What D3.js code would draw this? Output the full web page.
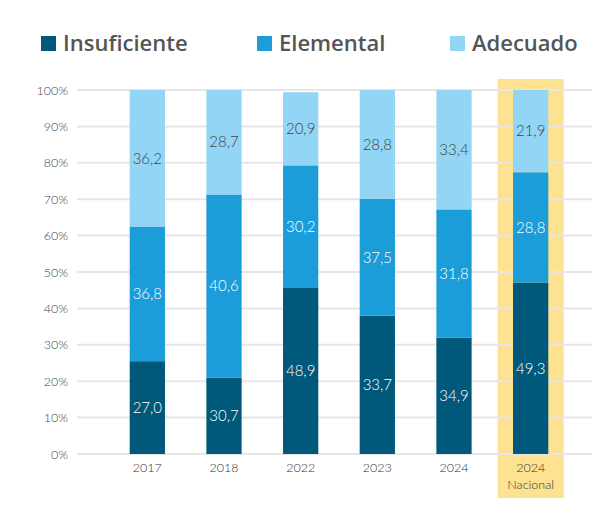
<!DOCTYPE html>
<html>
<head>
<meta charset="utf-8">
<script src="https://cdn.jsdelivr.net/npm/d3@7"></script>
<style>
  body { margin: 0; background: #fff; }
  svg { display: block; }
</style>
</head>
<body>
<svg id="chart" width="615" height="512"></svg>
<script>
// ---- data ----
const categories = ["2017", "2018", "2022", "2023", "2024", "2024\nNacional"];
const seriesNames = ["Insuficiente", "Elemental", "Adecuado"];
// segment heights as drawn in the picture (percent)
const insuficiente = [25.5, 21.0, 45.6, 38.0, 32.0, 47.1];
const elemental    = [37.0, 50.3, 33.7, 32.1, 35.2, 30.3];
const adecuado     = [37.5, 28.7, 20.1, 29.9, 32.8, 22.6];
// printed labels
const insuficienteLabels = ["27,0", "30,7", "48,9", "33,7", "34,9", "49,3"];
const elementalLabels    = ["36,8", "40,6", "30,2", "37,5", "31,8", "28,8"];
const adecuadoLabels     = ["36,2", "28,7", "20,9", "28,8", "33,4", "21,9"];
const yTicks = [0, 10, 20, 30, 40, 50, 60, 70, 80, 90, 100];
const highlighted = "2024\nNacional";

const colors = ["#00587a", "#1b9dd9", "#93d5f4"];
const labelColors = ["#ffffff", "#ffffff", "#444444"];

const svg = d3.select("#chart");
const font = "Lato, 'Open Sans', sans-serif";

const x = d3.scaleBand().domain(categories).range([109, 569]).paddingInner(0.54).paddingOuter(0.27);
const y = d3.scaleLinear().domain([0, 100]).range([454, 90]);

const rows = categories.map((c, i) => ({
  cat: c,
  Insuficiente: insuficiente[i], Elemental: elemental[i], Adecuado: adecuado[i],
  labels: [insuficienteLabels[i], elementalLabels[i], adecuadoLabels[i]]
}));
const stacked = d3.stack().keys(seriesNames)(rows);

// highlight
const hb = x(highlighted) + x.bandwidth() / 2;
svg.append("rect").attr("x", hb - 33).attr("y", 79).attr("width", 66).attr("height", 419)
  .attr("fill", "#fde291");

// gridlines
svg.append("g").selectAll("line").data(yTicks).join("line")
  .attr("x1", 77).attr("x2", 592)
  .attr("y1", d => y(d)).attr("y2", d => y(d))
  .attr("stroke", "#e6e6e6").attr("stroke-width", 2);

// y axis labels
const yAxis = d3.axisLeft(y).tickValues(yTicks).tickFormat(d => d + "%").tickSize(0).tickPadding(0);
const ya = svg.append("g").attr("transform", "translate(68,0)").call(yAxis);
ya.select(".domain").remove();
ya.selectAll("text").attr("font-family", font).attr("font-size", 12.5).attr("font-weight", 300).attr("fill", "#444");

// bars
const g = svg.append("g");
stacked.forEach((s, si) => {
  g.append("g").selectAll("rect").data(s).join("rect")
    .attr("x", d => x(d.data.cat))
    .attr("width", x.bandwidth())
    .attr("y", d => y(d[1]))
    .attr("height", d => y(d[0]) - y(d[1]))
    .attr("fill", colors[si]);
  g.append("g").selectAll("text").data(s).join("text")
    .attr("x", d => x(d.data.cat) + x.bandwidth() / 2)
    .attr("y", d => (y(d[0]) + y(d[1])) / 2)
    .attr("dy", "0.35em")
    .attr("text-anchor", "middle")
    .attr("font-family", font).attr("font-size", 15).attr("font-weight", 300)
    .attr("fill", labelColors[si])
    .text(d => d.data.labels[si]);
});

// x axis labels
const xAxis = d3.axisBottom(x).tickSize(0).tickPadding(0).tickFormat("");
const xa = svg.append("g").attr("transform", "translate(0,462)").call(xAxis);
xa.select(".domain").remove();
xa.selectAll(".tick").each(function(d) {
  const t = d3.select(this).append("text")
    .attr("text-anchor", "middle")
    .attr("font-family", font).attr("font-size", 12.5).attr("font-weight", 300)
    .attr("fill", "#333");
  d.split("\n").forEach((line, i) => {
    t.append("tspan").attr("x", 0).attr("y", 10 + i * 17).text(line);
  });
});

// legend
const legendX = [41, 257, 450];
const lg = svg.append("g");
seriesNames.forEach((n, i) => {
  lg.append("rect").attr("x", legendX[i]).attr("y", 36).attr("width", 15).attr("height", 15).attr("fill", colors[i]);
  lg.append("text").attr("x", legendX[i] + 22).attr("y", 51)
    .attr("font-family", "'Open Sans', sans-serif").attr("font-size", 22).attr("font-weight", 600)
    .attr("fill", "#555").text(n);
});
</script>
</body>
</html>
